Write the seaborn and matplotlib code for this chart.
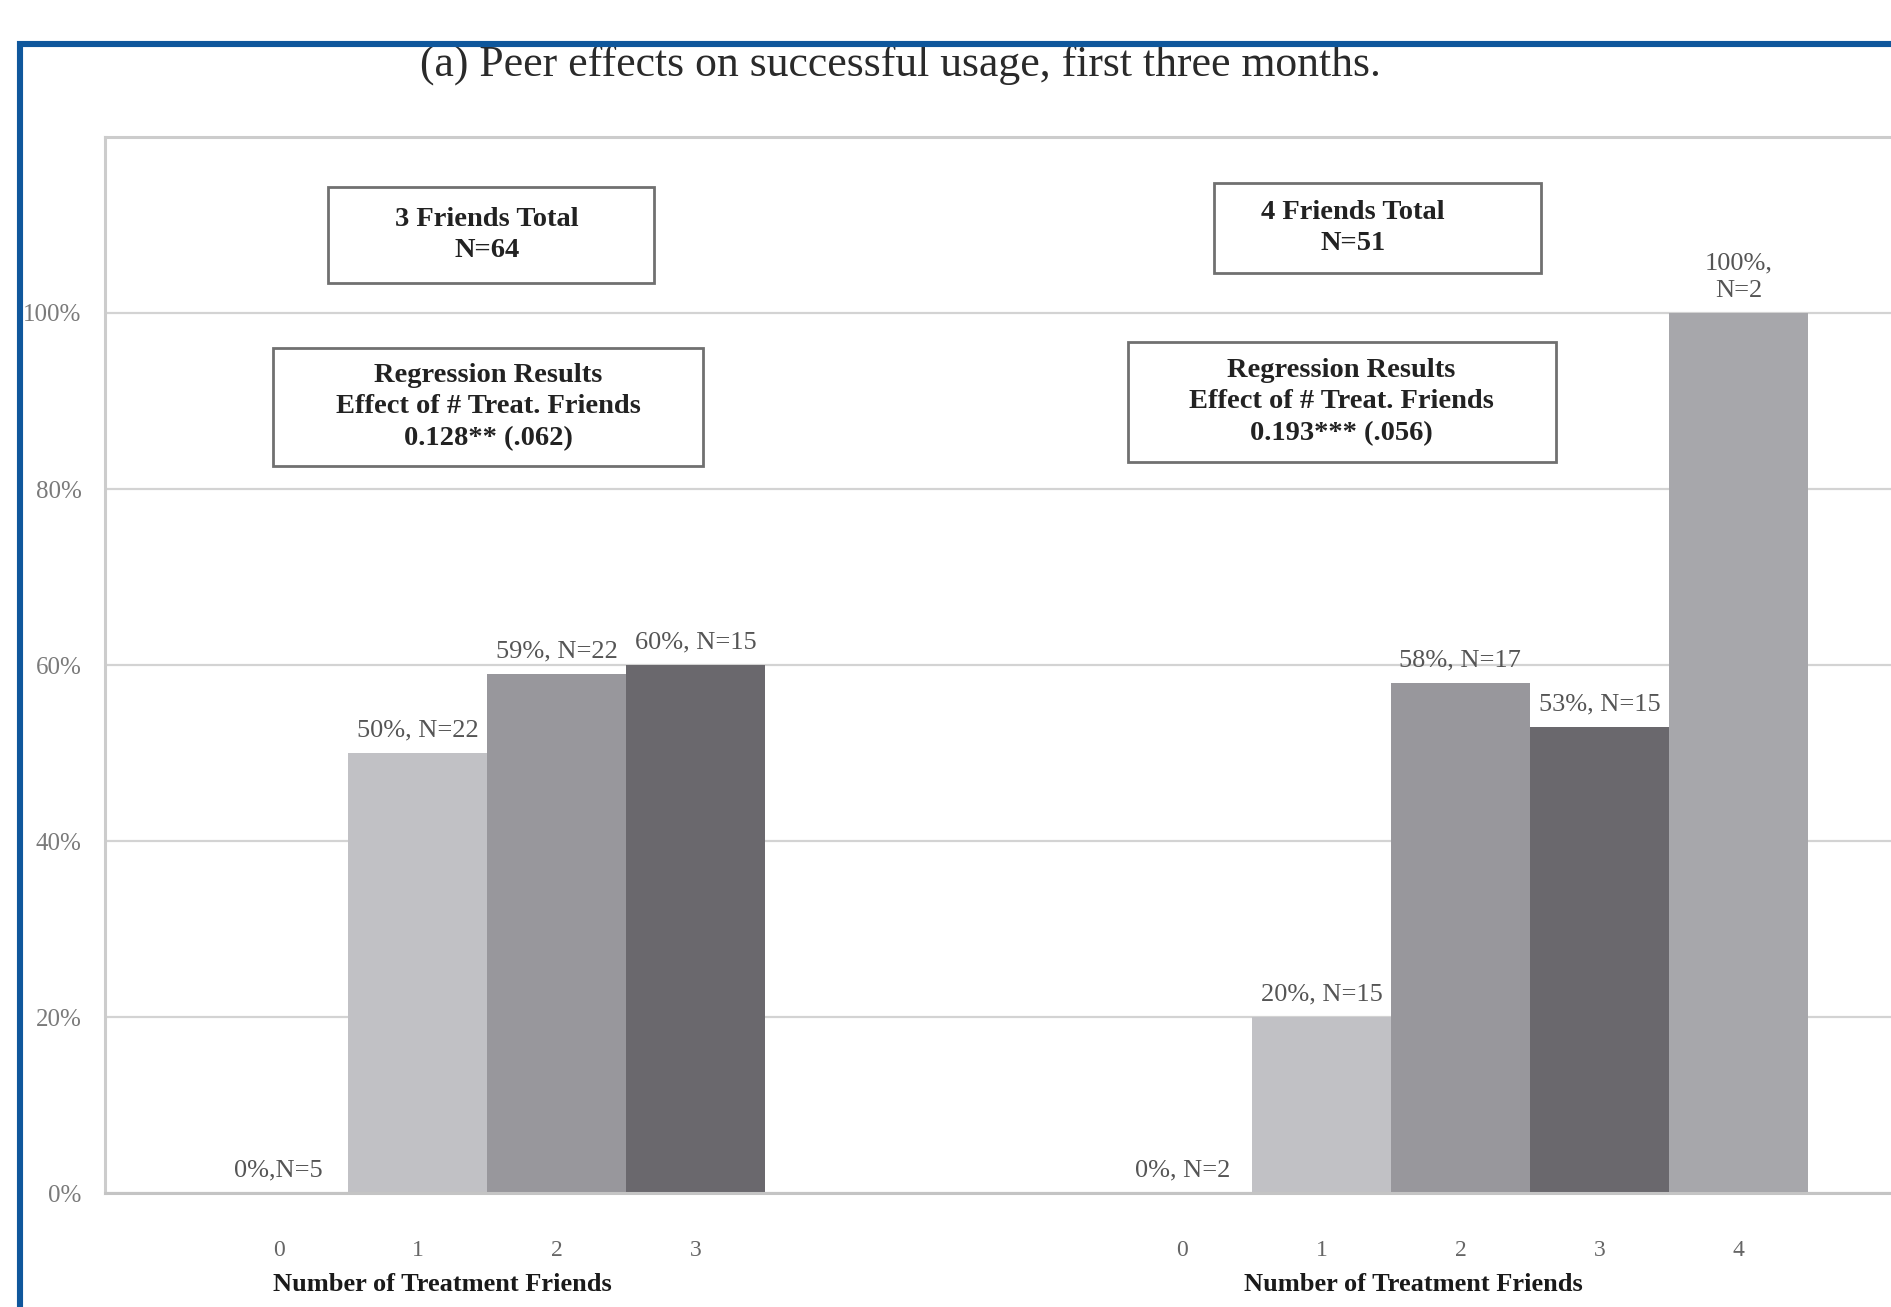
import numpy as np
import pandas as pd
import matplotlib
matplotlib.use("Agg")
import matplotlib.pyplot as plt
from matplotlib.patches import Rectangle
import seaborn as sns

# --- data ---------------------------------------------------------------
friends_3 = [0, 1, 2, 3]
pct_3 = [0, 50, 59, 60]
labels_3 = ["0%,N=5", "50%, N=22", "59%, N=22", "60%, N=15"]

friends_4 = [0, 1, 2, 3, 4]
pct_4 = [0, 20, 58, 53, 100]
labels_4 = ["0%, N=2", "20%, N=15", "58%, N=17", "53%, N=15", "100%,\nN=2"]

box_total_3 = "3 Friends Total\nN=64"
box_total_4 = "4 Friends Total\nN=51"
box_reg_3 = "Regression Results\nEffect of # Treat. Friends\n0.128** (.062)"
box_reg_4 = "Regression Results\nEffect of # Treat. Friends\n0.193*** (.056)"

title = "(a) Peer effects on successful usage, first three months."
xlabel = "Number of Treatment Friends"
yticks = [0, 20, 40, 60, 80, 100]

shade = {"0": "#c1c1c5", "1": "#c1c1c5", "2": "#98979c", "3": "#6a686d", "4": "#a7a7ab"}
GROUP2_OFFSET = 6.5

df = pd.DataFrame({
    "pos": [f for f in friends_3] + [f + GROUP2_OFFSET for f in friends_4],
    "pct": pct_3 + pct_4,
    "shade": [str(f) for f in friends_3 + friends_4],
    "label": labels_3 + labels_4,
    "tick": [str(f) for f in friends_3 + friends_4],
})

# --- figure --------------------------------------------------------------
sns.set_theme(style="white")
plt.rcParams["font.family"] = ["Liberation Serif", "DejaVu Serif"]

W, H = 1891, 1307
fig = plt.figure(figsize=(W / 100, H / 100), dpi=100)
fig.patch.set_facecolor("white")


def fx(px):
    return px / W


def fy(py):
    return 1 - py / H


ax_left, ax_right, ax_top, ax_bottom = 105, 1947, 137, 1193
ax = fig.add_axes([fx(ax_left), fy(ax_bottom), fx(ax_right - ax_left), (ax_bottom - ax_top) / H])

sns.barplot(data=df, x="pos", y="pct", hue="shade", palette=shade, dodge=False,
            native_scale=True, width=1, saturation=1, linewidth=0, legend=False, ax=ax)

ax.set_xlim(-1.25, 12.0)
ax.set_ylim(0, 120)
ax.set_axisbelow(True)
ax.yaxis.grid(True, color="#d3d3d3", linewidth=1.6)
ax.xaxis.grid(False)
for side in ["top", "left", "bottom", "right"]:
    ax.spines[side].set_color("#cccccc")
    ax.spines[side].set_linewidth(2.2)
ax.spines["bottom"].set_color("#c4c4c4")

ax.set_yticks(yticks)
ax.set_yticklabels([f"{v}%" for v in yticks], fontsize=18, color="#7a7a7a")
ax.set_xticks(df["pos"])
ax.set_xticklabels(df["tick"], fontsize=17, color="#666666")
ax.tick_params(axis="y", length=0, pad=17)
ax.tick_params(axis="x", length=0, pad=34)
ax.set_xlabel("")
ax.set_ylabel("")

# value labels above bars
for _, row in df.iterrows():
    ax.annotate(row["label"], (row["pos"], row["pct"]), xytext=(0, 8),
                textcoords="offset points", ha="center", va="bottom",
                fontsize=19, color="#555555", linespacing=1.3)

# axis titles for each group
for xc in [1.18, 8.16]:
    ax.text(xc, -0.087, xlabel, transform=ax.get_xaxis_transform(), ha="center",
            va="center", fontsize=19, fontweight="bold", color="#1a1a1a")

# boxed annotations (figure pixel layout)
boxes = [
    (328, 187, 654, 283, 487, box_total_3),
    (273, 348, 703, 466, 488, box_reg_3),
    (1214, 183, 1541, 273, 1353, box_total_4),
    (1128, 342, 1556, 462, 1341, box_reg_4),
]
for x0, y0, x1, y1, tx, txt in boxes:
    fig.patches.append(Rectangle((fx(x0), fy(y1)), fx(x1 - x0), (y1 - y0) / H,
                                 transform=fig.transFigure, facecolor="white",
                                 edgecolor="#707070", linewidth=2.0, zorder=3))
    fig.text(fx(tx), fy((y0 + y1) / 2), txt, ha="center", va="center",
             multialignment="center", fontsize=20.5, fontweight="bold",
             color="#222222", linespacing=1.35, zorder=4)

fig.text(fx(900), fy(65), title, ha="center", va="center", fontsize=31.5, color="#2a2a2a")

# blue frame of the scanned page
fig.patches.append(Rectangle((fx(20), -0.2), 1.5, fy(44) + 0.2, transform=fig.transFigure,
                             facecolor="none", edgecolor="#0f579c", linewidth=4.4, zorder=5))

fig.savefig("out.png", dpi=100, facecolor="white")
